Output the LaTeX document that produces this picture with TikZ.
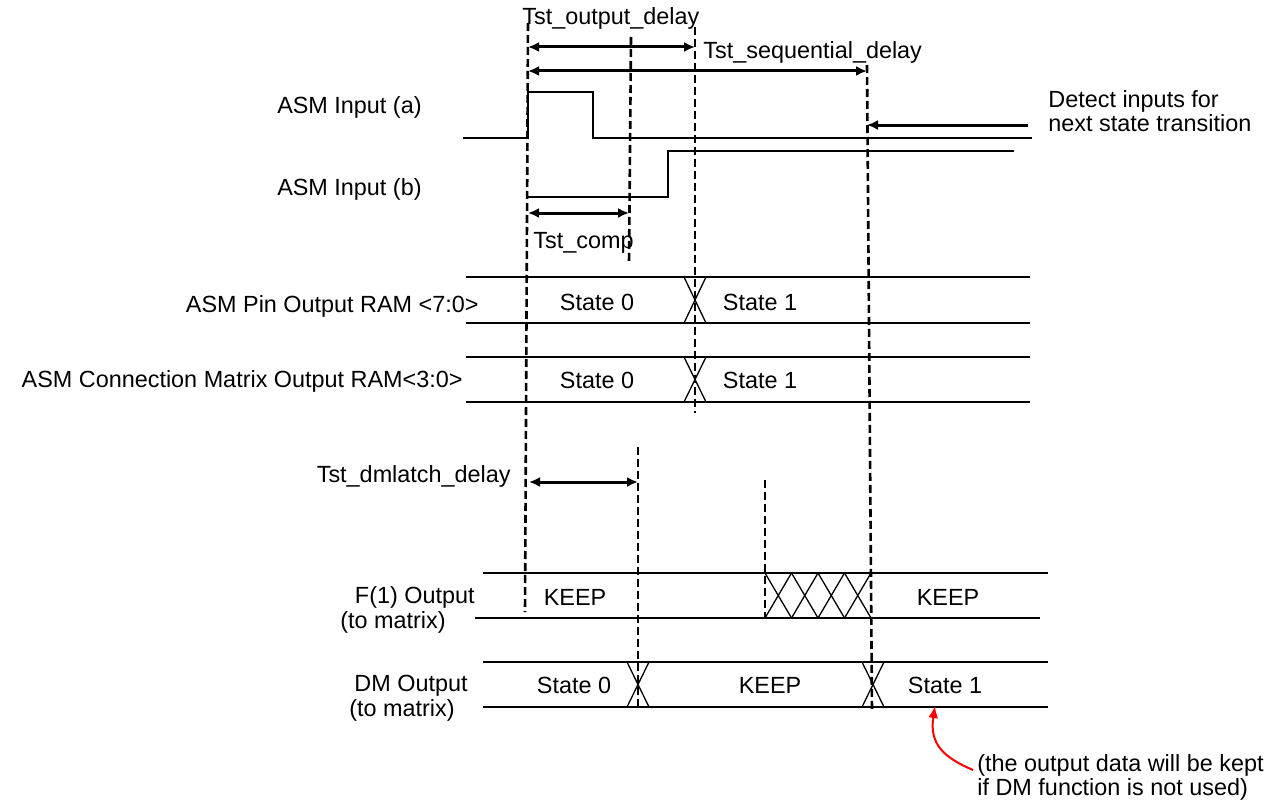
\documentclass[tikz,border=0pt]{standalone}
\usepackage{fontspec}
\setmainfont{Liberation Sans}
\usetikzlibrary{arrows.meta}

\begin{document}
\begin{tikzpicture}[
    x=.5pt,y=-.5pt,font=\fontsize{11.7}{14}\selectfont,
    wave/.style={line width=.65pt},
    marker/.style={line width=1.3pt,dash pattern=on 4pt off 2pt},
    span/.style={line width=1.5pt,{Latex[length=5.5pt,width=5pt]}-{Latex[length=5.5pt,width=5pt]}},
    pointer/.style={line width=1.5pt,-{Latex[length=5.5pt,width=5pt]}},
    remark/.style={draw=red,line width=1pt,-{Latex[length=6pt,width=5pt]}},
    note/.style={inner sep=0pt}
]
    \useasboundingbox (0,0) rectangle (1283,808);

    % Signal names on the left.
    \node[note,anchor=base east] (ina) at (422,113) {ASM Input (a)};
    \node[note,anchor=base east] (inb) at (422,195) {ASM Input (b)};
    \node[note,anchor=base east] (pinram) at (479,312) {ASM Pin Output RAM <7:0>};
    \node[note,anchor=base east] (cmram) at (463,387) {ASM Connection Matrix Output RAM<3:0>};
    \node[note,anchor=base east] (fout) at (475,603) {F(1) Output};
    \node[note,anchor=base west] (fto) at (340,628) {(to matrix)};
    \node[note,anchor=base east] (dmout) at (468,691) {DM Output};
    \node[note,anchor=base west] (dmto) at (349,716) {(to matrix)};

    % Input waveforms.
    \draw[wave] (463,138) -- (528,138) -- (528,92) -- (593,92) -- (593,138) -- (1032,138);
    \draw[wave] (526,197) -- (668,197) -- (668,151) -- (1014,151);

    % Bus rails.
    \foreach \upper/\lower in {277/323,357/402} {
        \draw[wave] (466,\upper) -- (1030,\upper);
        \draw[wave] (466,\lower) -- (1030,\lower);
    }
    \draw[wave] (483,573) -- (1048,573);
    \draw[wave] (475,618) -- (1040,618);
    \draw[wave] (483,662) -- (1048,662);
    \draw[wave] (483,707) -- (1048,707);

    % Bus transitions.
    \foreach \cx/\upper/\lower in {695/277/323,695/357/402,638/662/707,873/662/707}
        \draw[wave] (\cx-11,\upper) -- (\cx+11,\lower) (\cx+11,\upper) -- (\cx-11,\lower);
    \foreach \k in {0,...,3}
        \draw[wave] ({765+26.5*\k},573) -- ({765+26.5*(\k+1)},618)
                    ({765+26.5*\k},618) -- ({765+26.5*(\k+1)},573);

    % Bus contents.
    \foreach \cx/\cy/\txt in {597/310/State 0,760/310/State 1,597/388/State 0,760/388/State 1,
        575/605/KEEP,948/605/KEEP,574/693/State 0,770/693/KEEP,945/693/State 1}
        \node[note,anchor=base] at (\cx,\cy) {\txt};

    % Timing markers.
    \draw[marker] (528,23) -- (525,612);
    \draw[marker] (631,37) -- (629,263);
    \draw[marker] (695,27) -- (695,413);
    \draw[marker] (867,65) -- (872,712);
    \draw[marker] (638,447) -- (638,708);
    \draw[marker] (765,480) -- (765,618);

    % Delays.
    \node[note,anchor=base west] (outdelay) at (522,25) {Tst\_output\_delay};
    \draw[span] (528,47) -- (695,47);
    \node[note,anchor=base west] (seqdelay) at (703,59) {Tst\_sequential\_delay};
    \draw[span] (528,71) -- (867,71);
    \draw[span] (528,213) -- (629,213);
    \node[note,anchor=base west] (comp) at (533,248) {Tst\_comp};
    \node[note,anchor=base east] (dmlatch) at (511,482) {Tst\_dmlatch\_delay};
    \draw[span] (529,482) -- (638,482);

    \node[note,anchor=base west] (detect) at (1048,107) {Detect inputs for};
    \node[note,anchor=base west] (detectb) at (1048,131) {next state transition};
    \draw[pointer] (1028,125) -- (867,125);

    \node[note,anchor=base west] (kept) at (977,771) {(the output data will be kept};
    \node[note,anchor=base west] (unused) at (977,795) {if DM function is not used)};
    \draw[remark] (973,770) .. controls (945,758) and (929,745) .. (935,706);
\end{tikzpicture}
\end{document}
